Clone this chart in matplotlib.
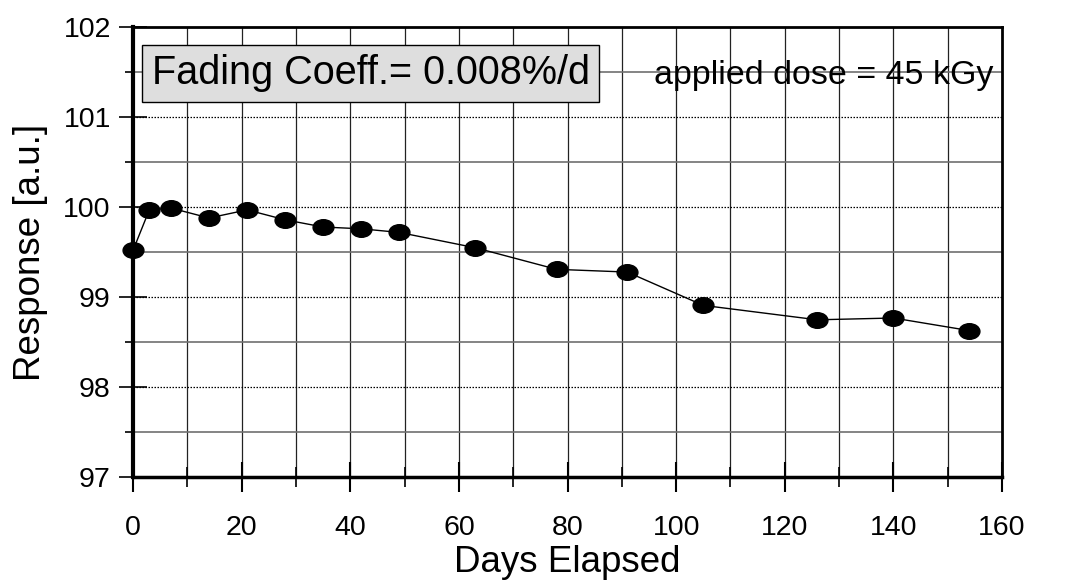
import numpy as np
import matplotlib
matplotlib.use("Agg")
import matplotlib.pyplot as plt
from matplotlib.path import Path
from matplotlib.transforms import Affine2D
from matplotlib.ticker import MultipleLocator

plt.rcParams["font.family"] = ["Liberation Sans", "DejaVu Sans"]

# ── data ──────────────────────────────────────────────
days = [0, 3, 7, 14, 21, 28, 35, 42, 49, 63, 78, 91, 105, 126, 140, 154]
response = [99.52, 99.97, 99.99, 99.88, 99.97, 99.86, 99.78, 99.76, 99.72,
            99.55, 99.31, 99.28, 98.91, 98.75, 98.77, 98.63]

fade_text = "Fading Coeff.= 0.008%/d"
dose_text = "applied dose = 45 kGy"

# ellipse marker (wider than tall)
ellipse = Path.unit_circle().transformed(Affine2D().scale(1.0, 0.75))

fig = plt.figure(figsize=(10.71, 5.84), dpi=100)
ax = fig.add_axes([0.1242, 0.1824, 0.8114, 0.7714])

ax.set_xlim(0, 160)
ax.set_ylim(97, 102)

# grid: solid at every 10 days, dotted at integers, grey solid at halves
for xv in np.arange(10, 160, 10):
    ax.axvline(xv, color="#222222", lw=0.9, zorder=1)
for yv in np.arange(98, 102, 1):
    ax.axhline(yv, color="black", lw=0.9, ls=(0, (1.2, 1.2)), zorder=1)
for yv in np.arange(97.5, 102, 1):
    ax.axhline(yv, color="#707070", lw=1.2, zorder=1)

ax.plot(days, response, color="black", lw=1.0, marker=ellipse,
        markersize=15, markerfacecolor="black", markeredgecolor="black",
        zorder=3, clip_on=False)

ax.xaxis.set_major_locator(MultipleLocator(20))
ax.xaxis.set_minor_locator(MultipleLocator(10))
ax.yaxis.set_major_locator(MultipleLocator(1))
ax.yaxis.set_minor_locator(MultipleLocator(0.5))

ax.tick_params(axis="x", which="major", direction="inout", length=22,
               width=1.5, labelsize=20.5, pad=16)
ax.tick_params(axis="x", which="minor", direction="inout", length=14,
               width=1.2)
ax.tick_params(axis="y", which="major", direction="inout", length=20,
               width=1.2, labelsize=20.5, pad=6)
ax.tick_params(axis="y", which="minor", direction="out", length=6,
               width=1.2)

ax.spines["left"].set_linewidth(3)
ax.spines["bottom"].set_linewidth(2.5)
ax.spines["top"].set_linewidth(2)
ax.spines["right"].set_linewidth(2)

ax.set_xlabel("Days Elapsed", fontsize=26.5, labelpad=3)
ax.set_ylabel("Response [a.u.]", fontsize=26.5, labelpad=11)

ax.text(0.0215, 0.897, fade_text, transform=ax.transAxes, fontsize=28.5,
        va="center", ha="left", zorder=5,
        bbox=dict(boxstyle="square,pad=0.24", facecolor="#dedede",
                  edgecolor="black", linewidth=1.0))
ax.text(0.6, 0.893, dose_text, transform=ax.transAxes, fontsize=24.5,
        va="center", ha="left", zorder=5)

fig.savefig("out.png", dpi=100)
